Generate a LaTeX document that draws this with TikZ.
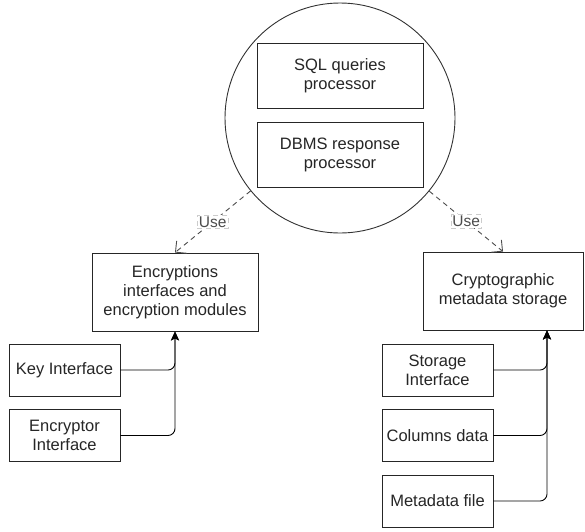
\documentclass[tikz,border=0pt]{standalone}
\usepackage{fontspec}
\setmainfont{Liberation Sans}
\usetikzlibrary{arrows.meta}
\begin{document}
\begin{tikzpicture}[x=1pt,y=-1pt,
  txt/.style={font=\fontsize{16.5}{19}\selectfont, text=black!85},
  box/.style={txt, draw=black!85, line width=0.9pt, fill=white, align=center, inner sep=0pt},
  bigbox/.style={box, minimum width=166pt, minimum height=65pt},
  midbox/.style={box, minimum height=78pt},
  smallbox/.style={box, minimum width=111pt, minimum height=52pt},
  uses/.style={draw=black!70, line width=0.9pt, dash pattern=on 5pt off 4pt, -{Straight Barb[length=8pt,width=16pt,line width=0.9pt]}},
  uselabel/.style={draw=black!20, fill=white, text=black!70, font=\fontsize{15.5}{18}\selectfont, inner sep=1.5pt, line width=0.6pt},
  conn/.style={draw=black, line width=0.9pt, rounded corners=7pt, -{Stealth[length=9pt,width=8pt,inset=2pt]}}
]
\useasboundingbox (0,0) rectangle (585,531);
% central component
\node[draw=black!80, line width=0.9pt, circle, minimum size=230pt, inner sep=0pt] (core) at (340,118) {};
\node[bigbox] (sql) at (340,75.5) {SQL queries\\processor};
\node[bigbox] (dbms) at (340,154.5) {DBMS response\\processor};
% targets
\node[midbox, minimum width=166pt] (enc) at (175,292) {Encryptions\\interfaces and\\encryption modules};
\node[midbox, minimum width=160pt] (crypto) at (503,291) {Cryptographic\\metadata storage};
% parts
\node[smallbox] (key) at (64.5,370) {Key Interface};
\node[smallbox] (encr) at (64.5,435.5) {Encryptor\\Interface};
\node[smallbox] (stor) at (437.5,370) {Storage\\Interface};
\node[smallbox] (cols) at (437.5,435.5) {Columns data};
\node[smallbox] (meta) at (437.5,501) {Metadata file};
\coordinate (busR) at ([xshift=44pt]crypto.south);
% use relations
\draw[uses] (core) -- node[uselabel] {Use} (enc.north);
\draw[uses] (core) -- node[uselabel] {Use} (crypto.north);
% composition connectors
\draw[conn] (key.east) -| (enc.south);
\draw[conn] (encr.east) -| (enc.south);
\draw[conn] (stor.east) -| (busR);
\draw[conn] (cols.east) -| (busR);
\draw[conn] (meta.east) -| (busR);
\end{tikzpicture}
\end{document}
